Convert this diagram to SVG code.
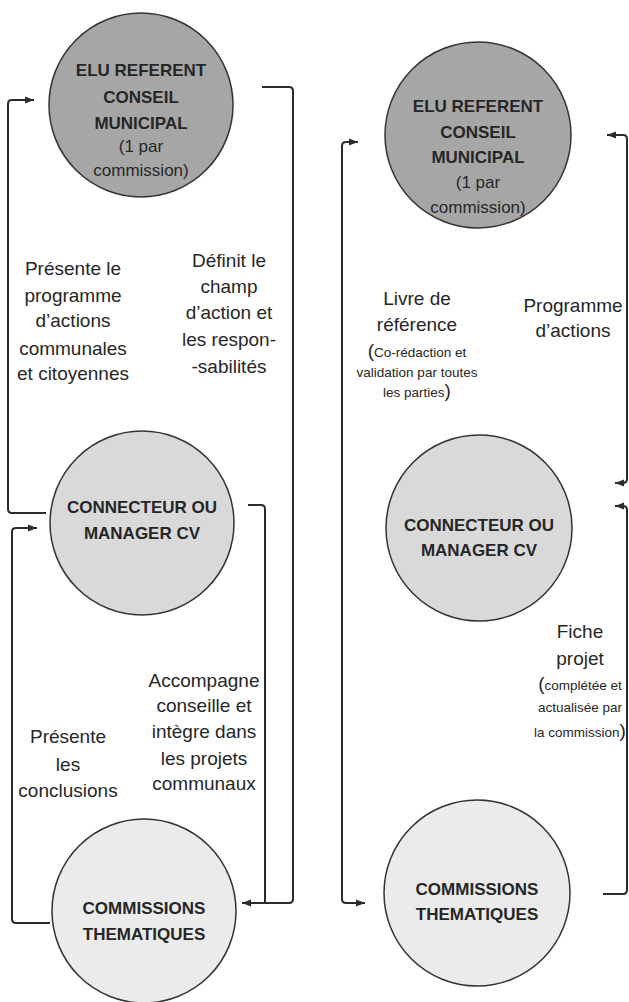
<svg xmlns="http://www.w3.org/2000/svg" width="629" height="1002" viewBox="0 0 629 1002">
<style>
.n{stroke:#333;stroke-width:1.5}
.d{fill:#a6a6a6}.m{fill:#d9d9d9}.l{fill:#ebebeb}
.t{font-family:"Liberation Sans",Arial,sans-serif;fill:#262626;text-anchor:middle}
.b{font-weight:bold;font-size:17px}
.r{font-size:17px}
.lb{font-size:19px}
.s{font-size:13.5px}
.p{font-size:19px}
.c{fill:none;stroke:#2b2b2b;stroke-width:2}
</style>
<defs>
<marker id="ah" viewBox="0 0 10 10" refX="10" refY="5" markerWidth="9" markerHeight="9" markerUnits="userSpaceOnUse" orient="auto-start-reverse">
<path d="M0,1 L10,5 L0,9 z" fill="#2b2b2b"/>
</marker>
</defs>
<rect width="629" height="1002" fill="#fff"/>
<g id="connectors">
<path class="c" d="M46,513 H12 Q8,513 8,509 V104 Q8,100 12,100 H34" marker-end="url(#ah)"/>
<path class="c" d="M262,87 H289 Q293,87 293,91 V899 Q293,903 289,903 H242" marker-end="url(#ah)"/>
<path class="c" d="M248,505 H261 Q265,505 265,509 V903"/>
<path class="c" d="M50,923 H16 Q12,923 12,919 V532 Q12,528 16,528 H37" marker-end="url(#ah)"/>
<path class="c" d="M365,903 H346 Q342,903 342,899 V146 Q342,142 346,142 H358" marker-start="url(#ah)" marker-end="url(#ah)"/>
<path class="c" d="M607,135 H623 Q627,135 627,139 V479 Q627,483 623,483 H615" marker-start="url(#ah)" marker-end="url(#ah)"/>
<path class="c" d="M603,894 H623 Q627,894 627,890 V510 Q627,506 623,506 H615" marker-end="url(#ah)"/>
</g>
<g id="elu-left">
<circle class="n d" cx="141" cy="105" r="92"/>
<text class="t b" x="141" y="76">ELU REFERENT</text>
<text class="t b" x="141" y="103">CONSEIL</text>
<text class="t b" x="141" y="129">MUNICIPAL</text>
<text class="t r" x="141" y="152">(1 par</text>
<text class="t r" x="141" y="176">commission)</text>
</g>
<g id="connecteur-left">
<circle class="n m" cx="142" cy="523" r="92"/>
<text class="t b" x="142" y="513">CONNECTEUR OU</text>
<text class="t b" x="142" y="539">MANAGER CV</text>
</g>
<g id="commissions-left">
<circle class="n l" cx="144" cy="911" r="92"/>
<text class="t b" x="144" y="914">COMMISSIONS</text>
<text class="t b" x="144" y="940">THEMATIQUES</text>
</g>
<g id="elu-right">
<circle class="n d" cx="478" cy="135" r="93"/>
<text class="t b" x="478" y="112">ELU REFERENT</text>
<text class="t b" x="478" y="138">CONSEIL</text>
<text class="t b" x="478" y="163">MUNICIPAL</text>
<text class="t r" x="478" y="188">(1 par</text>
<text class="t r" x="478" y="213">commission)</text>
</g>
<g id="connecteur-right">
<circle class="n m" cx="479" cy="528" r="93"/>
<text class="t b" x="479" y="531">CONNECTEUR OU</text>
<text class="t b" x="479" y="556">MANAGER CV</text>
</g>
<g id="commissions-right">
<circle class="n l" cx="477" cy="893" r="93"/>
<text class="t b" x="477" y="895">COMMISSIONS</text>
<text class="t b" x="477" y="920">THEMATIQUES</text>
</g>
<g id="labels">
<text class="t lb" x="73" y="275">Présente le</text>
<text class="t lb" x="73" y="302">programme</text>
<text class="t lb" x="73" y="327">d’actions</text>
<text class="t lb" x="73" y="355">communales</text>
<text class="t lb" x="73" y="380">et citoyennes</text>
<text class="t lb" x="229" y="267">Définit le</text>
<text class="t lb" x="229" y="293">champ</text>
<text class="t lb" x="229" y="319">d’action et</text>
<text class="t lb" x="229" y="346">les respon-</text>
<text class="t lb" x="229" y="373">-sabilités</text>
<text class="t lb" x="68" y="743">Présente</text>
<text class="t lb" x="68" y="771">les</text>
<text class="t lb" x="68" y="797">conclusions</text>
<text class="t lb" x="204" y="687">Accompagne</text>
<text class="t lb" x="204" y="712">conseille et</text>
<text class="t lb" x="204" y="738">intègre dans</text>
<text class="t lb" x="204" y="765">les projets</text>
<text class="t lb" x="204" y="790">communaux</text>
<text class="t lb" x="417" y="305">Livre de</text>
<text class="t lb" x="417" y="331">référence</text>
<text class="t s" x="417" y="357"><tspan class="p">(</tspan>Co-rédaction et</text>
<text class="t s" x="417" y="377">validation par toutes</text>
<text class="t s" x="417" y="397">les parties<tspan class="p">)</tspan></text>
<text class="t lb" x="573" y="312">Programme</text>
<text class="t lb" x="573" y="337">d’actions</text>
<text class="t lb" x="580" y="638">Fiche</text>
<text class="t lb" x="580" y="665">projet</text>
<text class="t s" x="580" y="690"><tspan class="p">(</tspan>complétée et</text>
<text class="t s" x="580" y="712">actualisée par</text>
<text class="t s" x="580" y="737">la commission<tspan class="p">)</tspan></text>
</g>
</svg>
